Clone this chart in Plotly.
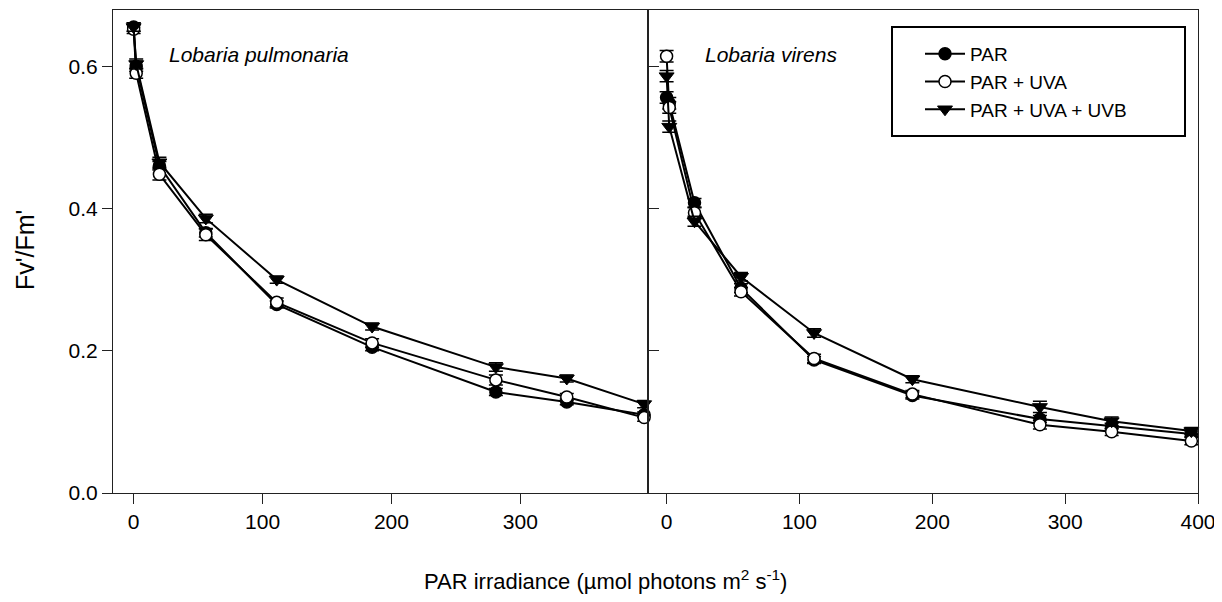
import plotly.graph_objects as go

# ---- data ----
x_pulm = [0, 2, 20, 56, 111, 185, 281, 336, 396]
pulm_par = [0.655, 0.600, 0.460, 0.366, 0.265, 0.205, 0.142, 0.128, 0.110]
pulm_uva = [0.652, 0.590, 0.448, 0.363, 0.268, 0.211, 0.159, 0.135, 0.106]
pulm_uvb = [0.655, 0.603, 0.465, 0.386, 0.300, 0.234, 0.177, 0.161, 0.125]
pulm_par_err = [0.006, 0.007, 0.006, 0.006, 0.005, 0.005, 0.005, 0.004, 0.004]
pulm_uva_err = [0.006, 0.007, 0.008, 0.008, 0.006, 0.006, 0.007, 0.005, 0.005]
pulm_uvb_err = [0.006, 0.007, 0.007, 0.006, 0.005, 0.005, 0.006, 0.005, 0.005]

x_vir = [0, 2, 21, 56, 111, 185, 281, 335, 395]
vir_par = [0.556, 0.548, 0.408, 0.288, 0.187, 0.137, 0.104, 0.094, 0.083]
vir_uva = [0.614, 0.542, 0.394, 0.283, 0.189, 0.139, 0.096, 0.086, 0.073]
vir_uvb = [0.586, 0.515, 0.382, 0.304, 0.225, 0.160, 0.121, 0.101, 0.087]
vir_par_err = [0.008, 0.008, 0.006, 0.006, 0.005, 0.005, 0.005, 0.004, 0.004]
vir_uva_err = [0.008, 0.008, 0.007, 0.006, 0.006, 0.005, 0.006, 0.005, 0.005]
vir_uvb_err = [0.008, 0.008, 0.007, 0.006, 0.006, 0.005, 0.008, 0.006, 0.005]

series_names = ["PAR", "PAR + UVA", "PAR + UVA + UVB"]
species = ["Lobaria pulmonaria", "Lobaria virens"]
y_ticks = [0.0, 0.2, 0.4, 0.6]
y_tick_text = ["0.0", "0.2", "0.4", "0.6"]
x_ticks_left = [0, 100, 200, 300]
x_ticks_right = [0, 100, 200, 300, 400]

FONT = "Arial, Liberation Sans, sans-serif"

styles = [
    dict(symbol="circle", color="black", size=12, line=dict(color="black", width=1.5)),
    dict(symbol="circle", color="white", size=12, line=dict(color="black", width=1.5)),
    dict(symbol="triangle-down", color="black", size=13, line=dict(color="black", width=1)),
]

fig = go.Figure()

panels = [
    ("x", "y", x_pulm, [pulm_par, pulm_uva, pulm_uvb], [pulm_par_err, pulm_uva_err, pulm_uvb_err], True),
    ("x2", "y2", x_vir, [vir_par, vir_uva, vir_uvb], [vir_par_err, vir_uva_err, vir_uvb_err], False),
]

for xa, ya, xs, ys_list, err_list, show in panels:
    for name, ys, errs, st in zip(series_names, ys_list, err_list, styles):
        fig.add_trace(go.Scatter(
            x=xs, y=ys, name=name, mode="lines+markers",
            xaxis=xa, yaxis=ya, showlegend=show, cliponaxis=False,
            line=dict(color="black", width=2),
            marker=st,
            error_y=dict(type="data", array=errs, visible=True,
                         color="black", thickness=1.5, width=7),
        ))

# page-pixel helpers (page has an 8px body margin)
PL, PR, PT, PB = 113, 1198, 10, 493
def fx(p):
    return (p - PL) / (PR - PL)
def fy(p):
    return (PB - p) / (PB - PT)

split = fx(648)

axis_common = dict(showgrid=False, zeroline=False, linecolor="#222", linewidth=1.2,
                   tickcolor="#222", tickwidth=1.2, ticklen=10,
                   tickfont=dict(family=FONT, size=21, color="black"))

fig.update_layout(
    width=1222, height=602,
    margin=dict(l=PL - 8, r=1222 - (PR - 8), t=PT - 8, b=602 - (PB - 8), autoexpand=False),
    paper_bgcolor="white", plot_bgcolor="white",
    font=dict(family=FONT, color="black"),
    xaxis=dict(domain=[0, split], range=[-16, 399], tickvals=x_ticks_left,
               ticks="outside", showline=True, mirror=True, anchor="y", **axis_common),
    xaxis2=dict(domain=[split, 1], range=[-14, 400], tickvals=x_ticks_right,
                ticks="outside", showline=True, mirror=True, anchor="y2", **axis_common),
    yaxis=dict(domain=[0, 1], range=[0, 0.679], tickvals=y_ticks, ticktext=y_tick_text,
               ticks="outside", showline=True, mirror="ticks", anchor="x", **axis_common),
    yaxis2=dict(domain=[0, 1], range=[0, 0.679], tickvals=y_ticks, showticklabels=False,
                ticks="", showline=True, mirror=True, anchor="x2", **axis_common),
    legend=dict(x=fx(920), y=fy(35), xanchor="left", yanchor="top",
                bgcolor="rgba(0,0,0,0)", borderwidth=0,
                font=dict(family=FONT, size=19, color="black"),
                tracegroupgap=0, itemwidth=40),
    shapes=[dict(type="rect", xref="paper", yref="paper",
                 x0=fx(892), x1=fx(1185), y0=fy(136), y1=fy(27),
                 line=dict(color="black", width=2), fillcolor="rgba(0,0,0,0)")],
    annotations=[
        dict(text=species[0], xref="paper", yref="paper",
             x=fx(167), y=fy(55), xanchor="left", yanchor="middle",
             showarrow=False, font=dict(family=FONT, size=21, color="black", style="italic")),
        dict(text=species[1], xref="paper", yref="paper",
             x=fx(703), y=fy(55), xanchor="left", yanchor="middle",
             showarrow=False, font=dict(family=FONT, size=21, color="black", style="italic")),
        dict(text="PAR irradiance (µmol photons m<sup>2</sup> s<sup>-1</sup>)",
             xref="paper", yref="paper", x=fx(605), y=fy(580),
             xanchor="center", yanchor="middle", showarrow=False,
             font=dict(family=FONT, size=22, color="black")),
        dict(text="Fv'/Fm'", xref="paper", yref="paper", x=fx(25),
             y=fy(250), xanchor="center", yanchor="middle", textangle=-90,
             showarrow=False, font=dict(family=FONT, size=25, color="black")),
    ],
)

fig.write_html("out.html")
